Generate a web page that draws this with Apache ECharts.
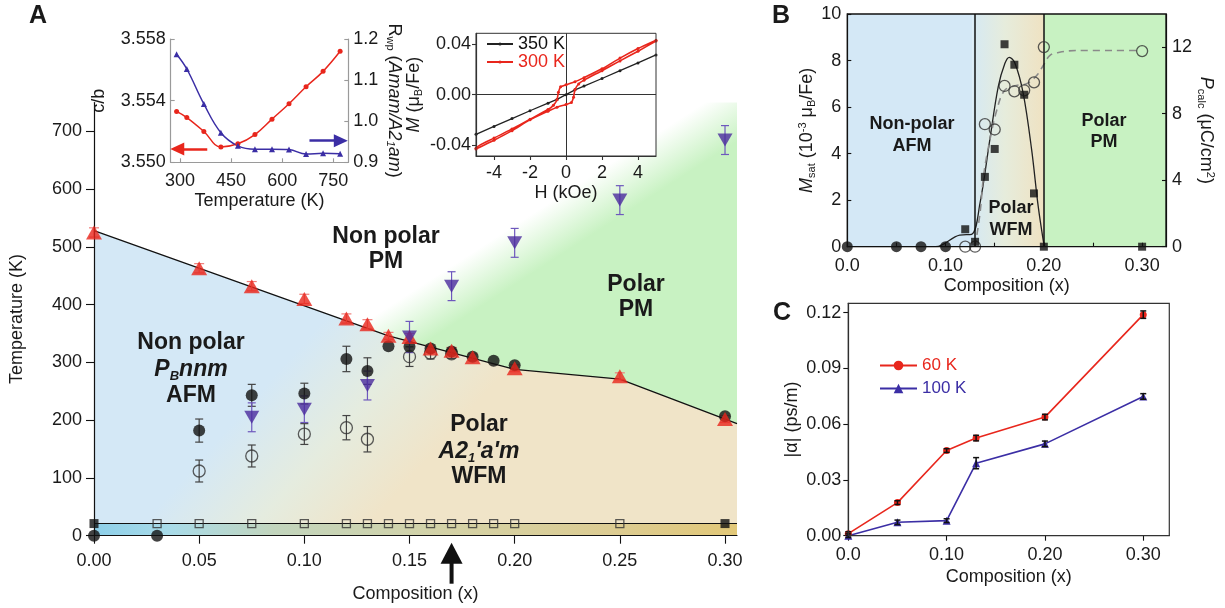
<!DOCTYPE html>
<html><head><meta charset="utf-8">
<script src="https://cdn.jsdelivr.net/npm/echarts@6/dist/echarts.min.js"></script>
<style>html,body{margin:0;padding:0;background:#fff;}#c{width:1225px;height:608px;}</style>
</head><body><div id="c"></div>
<script>
// ================= DATA =================
// ---- Panel A : phase diagram ----
const aCompTicks = [0, 0.05, 0.10, 0.15, 0.20, 0.25, 0.30];
const aTempTicks = [0, 100, 200, 300, 400, 500, 600, 700];
const aPhaseBoundary = [[0, 528], [0.14, 346], [0.20, 288], [0.25, 271], [0.3057, 194]];
const aLowT = 21;                      // temperature of the square-marker row
const aRedTriX   = [0.00, 0.05, 0.075, 0.10, 0.12, 0.13, 0.14, 0.15, 0.16, 0.17, 0.18, 0.20, 0.25, 0.30];
const aRedTriT   = [525, 463, 432, 410, 376, 366, 346, 344, 324, 320, 309, 290, 276, 202];
const aRedTriErr = [8, 8, 8, 8, 8, 8, 6, 6, 6, 6, 6, 6, 6, 6];
const aFilledX   = [0.05, 0.075, 0.10, 0.12, 0.13, 0.14, 0.15, 0.16, 0.17, 0.18, 0.19, 0.20, 0.30];
const aFilledT   = [182, 243, 246, 306, 285, 328, 327, 324, 319, 310, 303, 295, 207];
const aFilledErr = [20, 19, 18, 22, 23, 0, 0, 0, 0, 0, 0, 0, 0];
const aOpenX   = [0.05, 0.075, 0.10, 0.12, 0.13, 0.15, 0.16, 0.17];
const aOpenT   = [112, 138, 176, 187, 167, 310, 316, 315];
const aOpenErr = [19, 19, 18, 21, 22, 17, 10, 8];
const aPurpleX   = [0.075, 0.10, 0.13, 0.15, 0.17, 0.20, 0.25, 0.30];
const aPurpleT   = [205, 219, 260, 344, 432, 507, 581, 685];
const aPurpleErr = [25, 23, 25, 27, 25, 25, 25, 25];
const aOpenSqX   = [0.03, 0.05, 0.075, 0.10, 0.12, 0.13, 0.14, 0.15, 0.16, 0.17, 0.18, 0.19, 0.20, 0.25];
const aFilledSqX = [0.00, 0.30];
const aZeroCircX = [0.00, 0.03];
const aArrowX = 0.17;

// ---- Inset 1 : c/b and Rwp vs temperature ----
const i1Temp = [290, 320, 370, 420, 470, 520, 570, 620, 670, 720, 770];
const i1CB   = [3.5533, 3.5529, 3.5520, 3.5510, 3.5512, 3.5518, 3.5528, 3.5538, 3.5549, 3.5559, 3.5572];
const i1Rwp  = [1.163, 1.127, 1.042, 0.972, 0.940, 0.932, 0.932, 0.931, 0.920, 0.922, 0.921];
const i1TempTicks = [300, 450, 600, 750];
const i1CBTicks   = [3.550, 3.554, 3.558];
const i1RwpTicks  = [0.9, 1.0, 1.1, 1.2];

// ---- Inset 2 : M(H) loops ----
const i2H350 = [-5, -4, -3, -2, -1, -0.5, 0, 0.5, 1, 2, 3, 4, 5];
const i2M350 = [-0.0315, -0.0252, -0.0190, -0.0128, -0.0068, -0.0038, 0, 0.0038, 0.0068, 0.0128, 0.0190, 0.0252, 0.0315];
const i2H300 = [5, 4, 3, 2, 1, 0.5, 0, -0.3, -0.42, -0.5, -0.7, -1, -2, -3, -4, -5,
                -5, -4, -3, -2, -1, -0.5, 0, 0.3, 0.42, 0.5, 0.7, 1, 2, 3, 4, 5];
const i2M300 = [0.0432, 0.0366, 0.0290, 0.0205, 0.0135, 0.0102, 0.0078, 0.0062, 0.0020, -0.0040, -0.0085, -0.0118, -0.0195, -0.0272, -0.0345, -0.0425,
                -0.0432, -0.0362, -0.0286, -0.0200, -0.0132, -0.0100, -0.0078, -0.0062, -0.0020, 0.0040, 0.0085, 0.0115, 0.0190, 0.0268, 0.0345, 0.0425];
const i2HTicks = [-4, -2, 0, 2, 4];
const i2MTicks = [-0.04, 0, 0.04];

// ---- Panel B ----
const bCompTicks = [0, 0.05, 0.10, 0.15, 0.20, 0.25, 0.30];
const bCompLabels = [0, 0.10, 0.20, 0.30];
const bMTicks = [0, 2, 4, 6, 8, 10];
const bPTicks = [0, 4, 8, 12];
const bPhaseEdges = [0.1276, 0.20];
const bMsatX = [0.12, 0.13, 0.14, 0.15, 0.16, 0.17, 0.18, 0.19, 0.20, 0.30];
const bMsatY = [0.75, 0.21, 3.0, 4.2, 8.7, 7.82, 6.53, 2.29, 0, 0];
const bAfmX = [0.00, 0.05, 0.075, 0.10];
const bAfmY = [0, 0, 0, 0];
const bMfitX = [0, 0.09, 0.1144, 0.1265, 0.135, 0.145, 0.1536, 0.1604, 0.1648, 0.1706, 0.179, 0.1876, 0.1943, 0.2004];
const bMfitY = [0, 0, 0.5, 0.53, 1.86, 4.59, 6.88, 7.88, 8.14, 7.88, 6.59, 4.16, 1.72, 0];
const bPX = [0.12, 0.13, 0.14, 0.15, 0.16, 0.17, 0.18, 0.19, 0.20, 0.30];
const bPY = [0, 0, 7.37, 7.05, 9.67, 9.35, 9.41, 9.89, 12.01, 11.77];
const bPfitX = [0.13, 0.135, 0.139, 0.145, 0.152, 0.160, 0.172, 0.1825, 0.1927, 0.1994, 0.206, 0.216, 0.233, 0.298];
const bPfitY = [0, 2.0, 4.4, 6.4, 8.2, 9.4, 9.7, 9.8, 10.3, 10.9, 11.5, 11.7, 11.8, 11.8];

// ---- Panel C ----
const cComp = [0, 0.05, 0.10, 0.13, 0.20, 0.30];
const c60K = [0.0011, 0.0178, 0.0458, 0.0525, 0.0638, 0.1189];
const c60KErr = [0.001, 0.001, 0.001, 0.0015, 0.0015, 0.002];
const c100K = [0.0, 0.0072, 0.0081, 0.039, 0.0494, 0.0749];
const c100KErr = [0.001, 0.0012, 0.001, 0.003, 0.0015, 0.0015];
const cCompTicks = [0, 0.10, 0.20, 0.30];
const cAlphaTicks = [0, 0.03, 0.06, 0.09, 0.12];

// ================= STYLE / BUILD =================
const FONT = '"Liberation Sans", Arial, Helvetica, sans-serif';
const TXT = '#1a1a1a';
const RED = '#e8261c';
const BLUE = '#3b2ea5';
const PURPLE = '#4a2a9e';
const C_BLUE = '#d4e8f6', C_BEIGE = '#f0e4c8', C_GREEN = '#c8f2c2';

const pairs = (xs, ys) => xs.map((x, i) => [x, ys[i]]);
const triples = (xs, ys, es) => xs.map((x, i) => [x, ys[i], es[i]]);

const richSet = {
  i:  {fontStyle: 'italic', fontSize: 18, fontFamily: FONT, color: TXT, lineHeight: 20},
  s:  {fontSize: 11, fontFamily: FONT, color: TXT, verticalAlign: 'bottom', lineHeight: 11},
  si: {fontSize: 11, fontStyle: 'italic', fontFamily: FONT, color: TXT, verticalAlign: 'bottom', lineHeight: 11},
  p:  {fontSize: 11, fontFamily: FONT, color: TXT, verticalAlign: 'top', lineHeight: 11}
};

function axis(gridIndex, min, max, ticks, fmt, o) {
  o = o || {};
  const lc = o.lineColor || '#111';
  const a = {
    type: 'value', gridIndex, min, max, z: 4,
    splitLine: {show: false},
    axisLine: {show: o.line !== false, onZero: false, lineStyle: {color: lc, width: o.lineWidth || 1.2}},
    axisTick: {show: o.tick !== false, inside: !!o.tickInside, length: o.tickLen || 6, customValues: ticks, lineStyle: {color: lc, width: 1.1}},
    axisLabel: {customValues: o.labelValues || ticks, formatter: fmt, margin: o.margin || 8, color: TXT, fontSize: 18, fontFamily: FONT, hideOverlap: false, showMinLabel: true, showMaxLabel: true},
    name: o.name || '', nameLocation: 'middle', nameGap: o.nameGap || 30,
    nameTextStyle: {color: TXT, fontSize: 18, fontFamily: FONT, lineHeight: 20, rich: richSet}
  };
  if (o.position) a.position = o.position;
  if (o.nameRotate !== undefined) a.nameRotate = o.nameRotate;
  return a;
}

function errRender(color, cap, width) {
  return function (params, api) {
    const x = api.value(0), y = api.value(1), e = api.value(2);
    if (!e) return null;
    const lo = api.coord([x, y - e]), hi = api.coord([x, y + e]);
    const st = {stroke: color, lineWidth: width};
    return {type: 'group', children: [
      {type: 'line', shape: {x1: lo[0], y1: lo[1], x2: hi[0], y2: hi[1]}, style: st},
      {type: 'line', shape: {x1: lo[0] - cap, y1: lo[1], x2: lo[0] + cap, y2: lo[1]}, style: st},
      {type: 'line', shape: {x1: hi[0] - cap, y1: hi[1], x2: hi[0] + cap, y2: hi[1]}, style: st}
    ]};
  };
}
function errSeries(xi, yi, data, color, cap, width, z) {
  return {type: 'custom', xAxisIndex: xi, yAxisIndex: yi, data, z, silent: true,
    encode: {x: 0, y: 1}, renderItem: errRender(color, cap, width)};
}

const A_TMAX = 750, A_XMAX = 0.3057;

function renderPhaseA(params, api) {
  const bd = aPhaseBoundary.map(p => api.coord(p));
  const xR = A_XMAX;
  const lower = bd.concat([api.coord([xR, aLowT]), api.coord([0, aLowT])]);
  const upper = [api.coord([0, A_TMAX]), api.coord([xR, A_TMAX])].concat(bd.slice().reverse());
  const band = [api.coord([0, aLowT]), api.coord([xR, aLowT]), api.coord([xR, 0]), api.coord([0, 0])];
  function fade(p1, p2, w, stops) {
    const a = api.coord(p1), b = api.coord(p2);
    const cx = (a[0] + b[0]) / 2, cy = (a[1] + b[1]) / 2;
    const dx = b[0] - a[0], dy = b[1] - a[1], L = Math.hypot(dx, dy);
    const nx = -dy / L, ny = dx / L;
    return {type: 'linear', global: true,
      x: cx - nx * w / 2, y: cy - ny * w / 2, x2: cx + nx * w / 2, y2: cy + ny * w / 2,
      colorStops: stops};
  }
  const fillLower = fade([0.0789, 27], [0.1503, 321], 170,
    [{offset: 0, color: C_BLUE}, {offset: 0.5, color: '#e5ecdf'}, {offset: 1, color: C_BEIGE}]);
  const fillUpper = fade([0.2145, 520], [0.3081, 740], 50,
    [{offset: 0, color: '#ffffff'}, {offset: 1, color: C_GREEN}]);
  const b0 = api.coord([0, 0]), b1 = api.coord([xR, 0]);
  const fillBand = {type: 'linear', global: true, x: b0[0], y: 0, x2: b1[0], y2: 0,
    colorStops: [{offset: 0, color: '#8dcfe9'}, {offset: 0.12, color: '#a9dbe8'}, {offset: 0.28, color: '#c2d5bd'},
                 {offset: 0.55, color: '#d4d2a6'}, {offset: 0.8, color: '#dccc93'}, {offset: 1, color: '#e2c878'}]};
  return {type: 'group', children: [
    {type: 'polygon', shape: {points: upper}, style: {fill: fillUpper}},
    {type: 'polygon', shape: {points: lower}, style: {fill: fillLower}},
    {type: 'polygon', shape: {points: band}, style: {fill: fillBand}}
  ]};
}

function renderArrowA(params, api) {
  const p = api.coord([api.value(0), 0]);
  const x = p[0], y = p[1];
  return {type: 'group', children: [
    {type: 'polygon', shape: {points: [[x, y + 7], [x - 11, y + 28], [x + 11, y + 28]]}, style: {fill: '#111'}},
    {type: 'rect', shape: {x: x - 2, y: y + 26, width: 4, height: 22}, style: {fill: '#111'}}
  ]};
}

const fmt2 = v => v.toFixed(2);
const fmtComp = v => (v === 0 ? '0.0' : v.toFixed(2));
const openStyle = {color: 'rgba(255,255,255,0)', borderColor: '#333', borderWidth: 1.3};

const option = {
  animation: false,
  backgroundColor: '#fff',
  textStyle: {fontFamily: FONT},
  grid: [
    {left: 94, top: 102.5, width: 643, height: 433.2, containLabel: false, outerBoundsMode: 'none'},
    {left: 170.7, top: 39, width: 177.6, height: 123.3, containLabel: false, outerBoundsMode: 'none'},
    {left: 476, top: 33.3, width: 180, height: 122.7, containLabel: false, outerBoundsMode: 'none', show: true, z: 10, borderColor: '#333', borderWidth: 1, backgroundColor: 'transparent'},
    {left: 847.3, top: 14, width: 318.7, height: 232.7, containLabel: false, outerBoundsMode: 'none', show: true, z: 10, borderColor: '#111', borderWidth: 1.3, backgroundColor: 'transparent'},
    {left: 848.3, top: 303.3, width: 321, height: 232.4, containLabel: false, outerBoundsMode: 'none', show: true, z: 10, borderColor: '#333', borderWidth: 1.2, backgroundColor: 'transparent'}
  ],
  xAxis: [
    axis(0, 0, A_XMAX, aCompTicks, fmt2, {tickLen: 8, margin: 16, name: 'Composition (x)', nameGap: 48}),
    axis(1, 272.7, 794, i1TempTicks, v => String(v), {lineColor: '#9a9a9a', tickInside: true, tickLen: 4, margin: 10, name: 'Temperature (K)', nameGap: 28}),
    axis(2, -5, 5, i2HTicks, v => String(v), {lineColor: '#333', tickLen: 4, margin: 8, name: 'H (kOe)', nameGap: 26}),
    axis(3, 0, 0.3243, bCompTicks, fmtComp, {tickInside: true, tickLen: 4, labelValues: bCompLabels, margin: 10, name: 'Composition (x)', nameGap: 28}),
    axis(4, 0, 0.3265, cCompTicks, fmtComp, {tickLen: 5, margin: 10, name: 'Composition (x)', nameGap: 31})
  ],
  yAxis: [
    axis(0, 0, A_TMAX, aTempTicks, v => String(v), {tickLen: 8, margin: 12, name: 'Temperature (K)', nameGap: 67}),
    axis(1, 3.550, 3.558, i1CBTicks, v => v.toFixed(3), {lineColor: '#9a9a9a', tickInside: true, tickLen: 4, margin: 5, name: 'c/b', nameGap: 62}),
    axis(1, 0.9, 1.2, i1RwpTicks, v => v.toFixed(1), {position: 'right', lineColor: '#9a9a9a', tickInside: true, tickLen: 4, margin: 5,
      name: 'R{s|wp} ({i|Amam/A2}{si|1}{i|am})', nameGap: 36, nameRotate: -90}),
    axis(2, -0.0487, 0.0487, i2MTicks, fmt2, {lineColor: '#333', tickLen: 4, margin: 5, name: '{i|M} (μ{s|B}/Fe)', nameGap: 52}),
    axis(3, 0, 10, bMTicks, v => String(v), {tickInside: true, tickLen: 4, margin: 6, name: '{i|M}{s|sat} (10{p|-3} μ{s|B}/Fe)', nameGap: 28}),
    axis(3, 0, 14, bPTicks, v => String(v), {position: 'right', tickInside: true, tickLen: 4, margin: 6, name: '{i|P}{s|calc} (μC/cm{p|2})', nameGap: 27, nameRotate: -90}),
    axis(4, 0, 0.125, cAlphaTicks, fmt2, {tickLen: 5, margin: 7, name: '|α| (ps/m)', nameGap: 46})
  ],
  legend: [
    {left: 486, top: 35, orient: 'vertical', itemWidth: 26, itemHeight: 4, itemGap: 0, padding: 0, selectedMode: false,
      data: [{name: '350 K', textStyle: {color: '#111'}}, {name: '300 K', textStyle: {color: RED}}],
      textStyle: {fontSize: 18, fontFamily: FONT, lineHeight: 17}},
    {left: 879, top: 357, orient: 'vertical', itemWidth: 37, itemHeight: 12, itemGap: 6, padding: 0, selectedMode: false,
      data: [{name: '60 K', textStyle: {color: RED}}, {name: '100 K', textStyle: {color: BLUE}}],
      textStyle: {fontSize: 17, fontFamily: FONT, lineHeight: 16}}
  ],
  series: [
    // ---------- Panel A ----------
    {type: 'custom', name: 'phases', xAxisIndex: 0, yAxisIndex: 0, z: 0, silent: true, data: [[0, 0]], encode: {x: 0, y: 1}, renderItem: renderPhaseA},
    {type: 'line', name: 'boundary', xAxisIndex: 0, yAxisIndex: 0, z: 3, data: aPhaseBoundary, symbol: 'none', lineStyle: {color: '#111', width: 1.3}, silent: true},
    {type: 'scatter', name: 'openSq', xAxisIndex: 0, yAxisIndex: 0, z: 5, data: aOpenSqX.map(x => [x, aLowT]), symbol: 'rect', symbolSize: 8, itemStyle: openStyle,
      markLine: {silent: true, symbol: 'none', label: {show: false}, lineStyle: {color: '#111', width: 1.2, type: 'solid'}, data: [{yAxis: aLowT}]}},
    {type: 'scatter', name: 'filledSq', xAxisIndex: 0, yAxisIndex: 0, z: 6, clip: false, data: aFilledSqX.map(x => [x, aLowT]), symbol: 'rect', symbolSize: 9, itemStyle: {color: '#111'}},
    {type: 'scatter', name: 'zeroCirc', xAxisIndex: 0, yAxisIndex: 0, z: 6, clip: false, data: aZeroCircX.map(x => [x, 0]), symbol: 'circle', symbolSize: 12, itemStyle: {color: '#111'}},
    errSeries(0, 0, triples(aOpenX, aOpenT, aOpenErr), '#444', 4, 1.2, 4),
    errSeries(0, 0, triples(aFilledX, aFilledT, aFilledErr), '#444', 4, 1.2, 4),
    errSeries(0, 0, triples(aPurpleX, aPurpleT, aPurpleErr), '#6e58bd', 4, 1.2, 4),
    errSeries(0, 0, triples(aRedTriX, aRedTriT, aRedTriErr), '#ef7e7a', 5, 1.2, 4),
    {type: 'scatter', name: 'open', xAxisIndex: 0, yAxisIndex: 0, z: 6, data: pairs(aOpenX, aOpenT), symbol: 'circle', symbolSize: 12, itemStyle: openStyle},
    {type: 'scatter', name: 'filled', xAxisIndex: 0, yAxisIndex: 0, z: 7, data: pairs(aFilledX, aFilledT), symbol: 'circle', symbolSize: 12, itemStyle: {color: '#111'}},
    {type: 'scatter', name: 'redTri', xAxisIndex: 0, yAxisIndex: 0, z: 8, clip: false, data: pairs(aRedTriX, aRedTriT), symbol: 'triangle', symbolSize: [16, 14], itemStyle: {color: RED}},
    {type: 'scatter', name: 'purpleTri', xAxisIndex: 0, yAxisIndex: 0, z: 9, clip: false, data: pairs(aPurpleX, aPurpleT), symbol: 'triangle', symbolRotate: 180, symbolSize: [15, 13], itemStyle: {color: PURPLE}},
    {type: 'custom', name: 'arrow', xAxisIndex: 0, yAxisIndex: 0, z: 9, silent: true, clip: false, data: [[aArrowX, 0]], encode: {x: 0, y: 1}, renderItem: renderArrowA},
    // ---------- Inset 1 ----------
    {type: 'line', name: 'c/b', xAxisIndex: 1, yAxisIndex: 1, z: 5, smooth: 0.4, data: pairs(i1Temp, i1CB), symbol: 'circle', symbolSize: 5,
      lineStyle: {color: RED, width: 1.5}, itemStyle: {color: RED},
      markLine: {silent: true, symbol: ['none', 'triangle'], symbolSize: [13, 14], label: {show: false}, lineStyle: {color: RED, width: 2.5, type: 'solid'},
        data: [[{coord: [380, 3.55087]}, {coord: [292, 3.55087]}]]}},
    {type: 'line', name: 'Rwp', xAxisIndex: 1, yAxisIndex: 2, z: 5, smooth: 0.4, data: pairs(i1Temp, i1Rwp), symbol: 'triangle', symbolSize: 6,
      lineStyle: {color: BLUE, width: 1.5}, itemStyle: {color: BLUE},
      markLine: {silent: true, symbol: ['none', 'triangle'], symbolSize: [13, 14], label: {show: false}, lineStyle: {color: BLUE, width: 2.5, type: 'solid'},
        data: [[{coord: [680, 0.9526]}, {coord: [772, 0.9526]}]]}},
    // ---------- Inset 2 ----------
    {type: 'line', name: '350 K', xAxisIndex: 2, yAxisIndex: 3, z: 5, data: pairs(i2H350, i2M350), symbol: 'circle', symbolSize: 3,
      lineStyle: {color: '#222', width: 1.3}, itemStyle: {color: '#222'},
      markLine: {silent: true, symbol: 'none', label: {show: false}, lineStyle: {color: '#333', width: 1, type: 'solid'}, data: [{xAxis: 0}, {yAxis: 0}]}},
    {type: 'line', name: '300 K', xAxisIndex: 2, yAxisIndex: 3, z: 6, smooth: 0.2, data: pairs(i2H300, i2M300), symbol: 'circle', symbolSize: 3,
      lineStyle: {color: RED, width: 1.6}, itemStyle: {color: RED}},
    // ---------- Panel B ----------
    {type: 'line', name: 'bAreas', xAxisIndex: 3, yAxisIndex: 4, z: 1, data: [[0, 0]], symbol: 'none', lineStyle: {width: 0}, silent: true,
      markArea: {silent: true, label: {show: false}, data: [
        [{xAxis: 0, itemStyle: {color: C_BLUE}}, {xAxis: bPhaseEdges[0]}],
        [{xAxis: bPhaseEdges[0], itemStyle: {color: {type: 'linear', x: 0, y: 0, x2: 1, y2: 0, colorStops: [
          {offset: 0, color: '#d6e9f3'}, {offset: 0.45, color: '#e6ecdc'}, {offset: 1, color: '#efe2c2'}]}}}, {xAxis: bPhaseEdges[1]}],
        [{xAxis: bPhaseEdges[1], itemStyle: {color: C_GREEN}}, {xAxis: 0.3243}]
      ]}},
    {type: 'line', name: 'bEdges', xAxisIndex: 3, yAxisIndex: 4, z: 3, data: [[0, 0]], symbol: 'none', lineStyle: {width: 0}, silent: true,
      markLine: {silent: true, symbol: 'none', label: {show: false}, lineStyle: {color: '#111', width: 1.5, type: 'solid'},
        data: bPhaseEdges.map(x => ({xAxis: x}))}},
    {type: 'line', name: 'Mfit', xAxisIndex: 3, yAxisIndex: 4, z: 4, smooth: 0.35, data: pairs(bMfitX, bMfitY), symbol: 'none', lineStyle: {color: '#222', width: 1.3}},
    {type: 'line', name: 'Pfit', xAxisIndex: 3, yAxisIndex: 5, z: 4, smooth: 0.35, data: pairs(bPfitX, bPfitY), symbol: 'none', lineStyle: {color: '#8a8a8a', width: 1.6, type: [7, 5]}},
    {type: 'scatter', name: 'Psc', xAxisIndex: 3, yAxisIndex: 5, z: 5, clip: false, data: pairs(bPX, bPY), symbol: 'circle', symbolSize: 11, itemStyle: openStyle},
    {type: 'scatter', name: 'Msat', xAxisIndex: 3, yAxisIndex: 4, z: 6, clip: false, data: pairs(bMsatX, bMsatY), symbol: 'rect', symbolSize: 8, itemStyle: {color: '#111'}},
    {type: 'scatter', name: 'Mafm', xAxisIndex: 3, yAxisIndex: 4, z: 6, clip: false, data: pairs(bAfmX, bAfmY), symbol: 'circle', symbolSize: 11, itemStyle: {color: '#111'}},
    // ---------- Panel C ----------
    errSeries(4, 6, triples(cComp, c60K, c60KErr), '#111', 3, 1.5, 6),
    errSeries(4, 6, triples(cComp, c100K, c100KErr), '#111', 3, 1.5, 6),
    {type: 'line', name: '60 K', xAxisIndex: 4, yAxisIndex: 6, z: 5, clip: false, data: pairs(cComp, c60K), symbol: 'circle', symbolSize: 7,
      lineStyle: {color: RED, width: 1.6}, itemStyle: {color: RED}},
    {type: 'line', name: '100 K', xAxisIndex: 4, yAxisIndex: 6, z: 5, clip: false, data: pairs(cComp, c100K), symbol: 'triangle', symbolSize: 8,
      lineStyle: {color: BLUE, width: 1.6}, itemStyle: {color: BLUE}}
  ],
  graphic: {elements: (function () {
    // white interior of the M(H) inset box
    const els = [{type: 'rect', z: 1, silent: true, shape: {x: 476, y: 33.3, width: 180, height: 122.7}, style: {fill: '#ffffff'}}];
    function t(x, y, text, size, rich) {
      const st = {text, fill: TXT, font: 'bold ' + size + 'px ' + FONT, align: 'center', verticalAlign: 'middle'};
      if (rich) st.rich = rich;
      els.push({type: 'text', x, y, z: 12, silent: true, style: st});
    }
    const rA = {
      i: {fontSize: 23, fontWeight: 'bold', fontStyle: 'italic', fontFamily: FONT, fill: TXT, lineHeight: 26},
      s: {fontSize: 13, fontWeight: 'bold', fontStyle: 'italic', fontFamily: FONT, fill: TXT, lineHeight: 13, verticalAlign: 'bottom'}
    };
    t(38, 16, 'A', 25); t(781, 16, 'B', 25); t(782, 313, 'C', 25);
    t(191, 343, 'Non polar', 23); t(191, 370, '{i|P}{s|B}{i|nnm}', 23, rA); t(191, 396, 'AFM', 23);
    t(386, 237, 'Non polar', 23); t(386, 262, 'PM', 23);
    t(636, 285, 'Polar', 23); t(636, 310, 'PM', 23);
    t(479, 425, 'Polar', 23); t(479, 452, "{i|A2}{s|1}{i|'a'm}", 23, rA); t(479, 477, 'WFM', 23);
    t(912, 124, 'Non-polar', 18); t(912, 146, 'AFM', 18);
    t(1011, 208, 'Polar', 18); t(1011, 230, 'WFM', 18);
    t(1104, 121, 'Polar', 18); t(1104, 142, 'PM', 18);
    return els;
  })()}
};

const chart = echarts.init(document.getElementById('c'), null, {renderer: 'canvas'});
chart.setOption(option);
</script></body></html>
